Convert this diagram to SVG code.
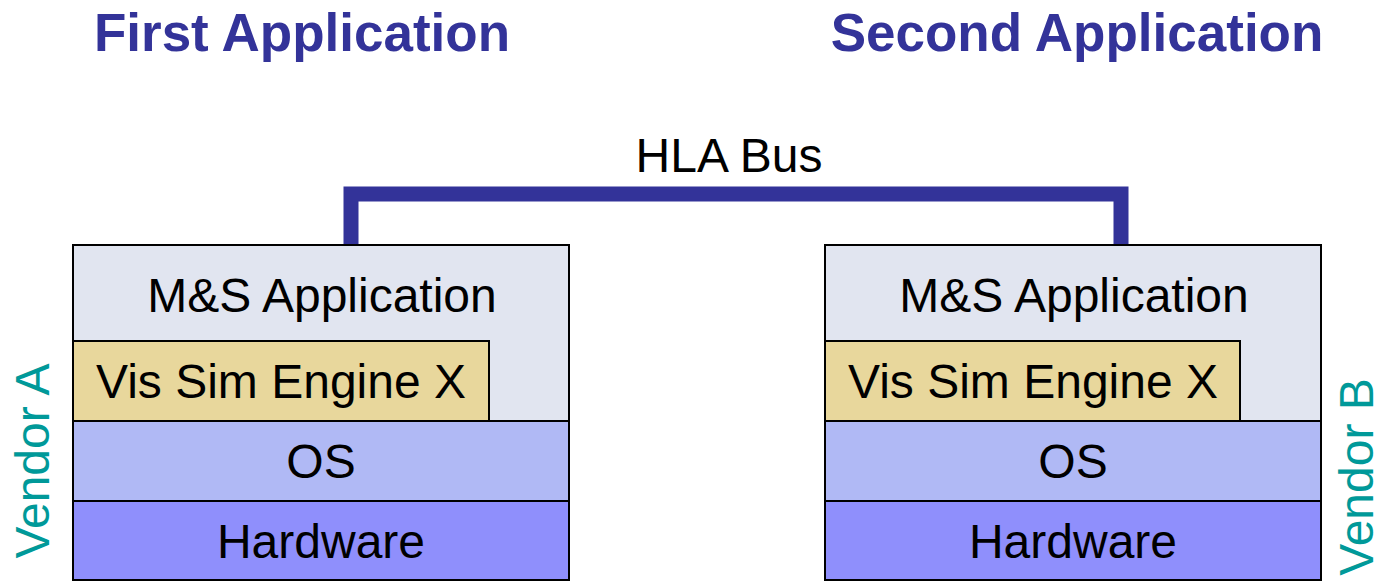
<svg xmlns="http://www.w3.org/2000/svg" width="1383" height="584" viewBox="0 0 1383 584">
<style>
.t{font-family:"Liberation Sans",Arial,sans-serif;font-size:48px;fill:#000;text-anchor:middle}
.title{font-family:"Liberation Sans",Arial,sans-serif;font-size:53px;font-weight:bold;fill:#333399;text-anchor:middle}
.vendor{font-family:"Liberation Sans",Arial,sans-serif;font-size:48px;fill:#009999;text-anchor:middle}
.app{fill:#E1E5F0;stroke:#000;stroke-width:2}
.vis{fill:#E8D79C;stroke:#000;stroke-width:2}
.os{fill:#B0B9F5;stroke:#000;stroke-width:2}
.hw{fill:#8F8FFC;stroke:#000;stroke-width:2}
.bus{fill:none;stroke:#333399;stroke-width:15}
</style>
<rect width="1383" height="584" fill="#fff"/>
<text class="title" x="302" y="51">First Application</text>
<text class="title" x="1077" y="51">Second Application</text>
<g id="connectors">
<path class="bus" d="M351,245 V194 H1121 V245"/>
<text class="t" x="729" y="172">HLA Bus</text>
</g>
<g id="stackA">
<rect class="app" x="73" y="245" width="496" height="176"/>
<text class="t" x="322" y="312">M&amp;S Application</text>
<rect class="vis" x="73" y="341" width="416" height="80"/>
<text class="t" x="281" y="398">Vis Sim Engine X</text>
<rect class="os" x="73" y="421" width="496" height="80"/>
<text class="t" x="321" y="478">OS</text>
<rect class="hw" x="73" y="501" width="496" height="79"/>
<text class="t" x="321" y="558">Hardware</text>
</g>
<g id="stackB">
<rect class="app" x="825" y="245" width="496" height="176"/>
<text class="t" x="1074" y="312">M&amp;S Application</text>
<rect class="vis" x="825" y="341" width="415" height="80"/>
<text class="t" x="1033" y="398">Vis Sim Engine X</text>
<rect class="os" x="825" y="421" width="496" height="80"/>
<text class="t" x="1073" y="478">OS</text>
<rect class="hw" x="825" y="501" width="496" height="79"/>
<text class="t" x="1073" y="558">Hardware</text>
</g>
<g id="vendorA"><text class="vendor" transform="translate(49,461) rotate(-90)">Vendor A</text></g>
<g id="vendorB"><text class="vendor" transform="translate(1373,477) rotate(-90)">Vendor B</text></g>
</svg>
